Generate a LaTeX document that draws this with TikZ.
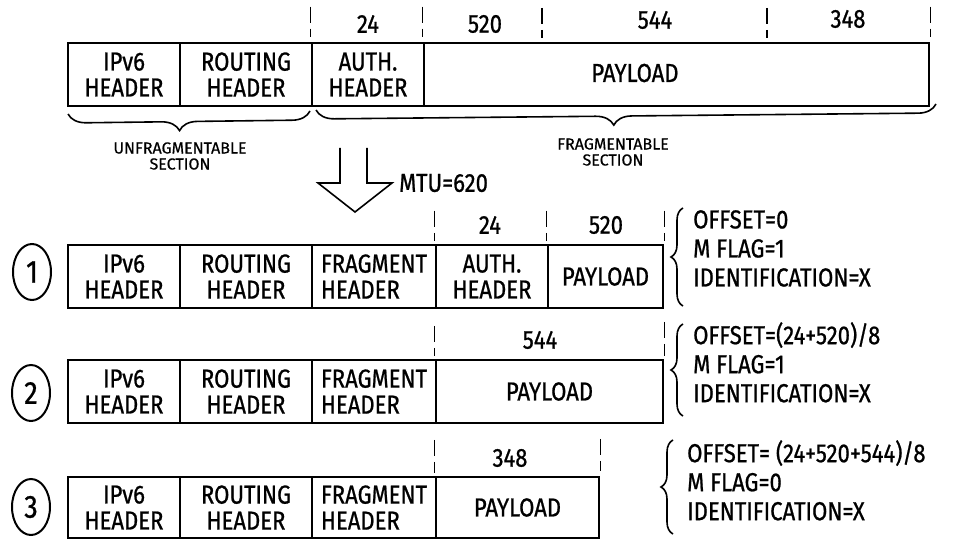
\documentclass[tikz,border=0pt]{standalone}
\usepackage{fontspec}
\setmainfont{Fira Sans}[FakeStretch=0.85, FakeBold=0.8]
\newfontfamily\smallfam{Fira Sans}[FakeBold=0.5]
\usetikzlibrary{decorations.pathreplacing,shapes.geometric}
\begin{document}
\begin{tikzpicture}[x=1pt,y=-1pt,
  cell/.style={draw, line width=2.5pt, minimum height=63pt, inner sep=0pt, align=center, font=\fontsize{26}{26}\selectfont},
  celltext/.style={inner sep=0pt, align=center, font=\fontsize{26}{26}\selectfont},
  sizelabel/.style={inner sep=0pt, font=\fontsize{26}{26}\selectfont},
  tickmark/.style={line width=1.4pt, dash pattern=on 16pt off 6pt},
  bracebelow/.style={line width=1.6pt, decorate, decoration={brace, amplitude=18pt}},
  braceside/.style={line width=1.6pt, decorate, decoration={brace, amplitude=12pt}},
  infotext/.style={inner sep=0pt, align=left, anchor=north west, font=\fontsize{26}{29}\selectfont},
  sectiontext/.style={inner sep=0pt, align=center, font=\smallfam\fontsize{16}{16}\selectfont},
  numcircle/.style={draw, ellipse, line width=2pt, minimum width=38pt, minimum height=56pt, inner sep=0pt, font=\fontsize{32}{32}\selectfont},
  bigarrow/.style={line width=1.6pt, line join=miter}
]
\useasboundingbox (0,0) rectangle (958,540);

% ---------- original packet ----------
\node[cell, minimum width=112pt] (t1) at (124,74.5) {IPv6\\HEADER};
\node[cell, minimum width=132pt] (t2) at (246,74.5) {ROUTING\\HEADER};
\node[cell, minimum width=112pt] (t3) at (368,74.5) {AUTH.\\HEADER};
\node[cell, minimum width=505pt] (t4) at (676.5,74.5) {};
\node[celltext] (t4text) at (635,73) {PAYLOAD};

\coordinate (tk1) at (542,8);
\coordinate (tk2) at (767,8);
\draw[tickmark] (t3.north west) ++(0,-35) -- ++(0,30);
\draw[tickmark] (t4.north west) ++(0,-35) -- ++(0,30);
\draw[tickmark] (tk1) -- ++(0,30);
\draw[tickmark] (tk2) -- ++(0,30);
\draw[tickmark] (t4.north east) ++(0,-35) -- ++(0,30);

\node[sizelabel] (s1) at (368,24) {24};
\node[sizelabel] (s2) at (485,24) {520};
\node[sizelabel] (s3) at (655,20) {544};
\node[sizelabel] (s4) at (848,19) {348};

\coordinate (ub1) at (310,111);
\coordinate (ub2) at (68,114);
\coordinate (fb1) at (936,104);
\coordinate (fb2) at (316,110);
\draw[bracebelow, decoration={aspect=0.54}] (ub1) -- (ub2);
\draw[bracebelow, decoration={aspect=0.52}] (fb1) -- (fb2);
\node[sectiontext] (us) at (180,156) {UNFRAGMENTABLE\\SECTION};
\node[sectiontext] (fs) at (613,152) {FRAGMENTABLE\\SECTION};

% ---------- big arrow ----------
\draw[bigarrow] (340,148) -- (340,183) -- (318,183) -- (355,212) -- (392,183) -- (367,183) -- (367,148);
\node[sizelabel, anchor=west] (mtu) at (399,183) {MTU=620};

% ---------- fragment 1 ----------
\node[numcircle] (c1) at (32,272) {1};
\node[cell, minimum width=112pt] (a1) at (124,276.5) {IPv6\\HEADER};
\node[cell, minimum width=132pt] (a2) at (246,276.5) {ROUTING\\HEADER};
\node[cell, minimum width=124pt, align=left] (a3) at (374,276.5) {FRAGMENT\\HEADER};
\node[cell, minimum width=112pt] (a4) at (492,276.5) {AUTH.\\HEADER};
\node[cell, minimum width=115pt] (a5) at (605.5,276.5) {PAYLOAD};
\draw[tickmark] (a4.north west) ++(0,-33) -- ++(0,30);
\draw[tickmark] (a5.north west) ++(0,-33) -- ++(0,30);
\draw[tickmark] (a5.north east) ++(0,-33) -- ++(0,30);
\node[sizelabel] (a4s) at (490,225) {24};
\node[sizelabel] (a5s) at (606,225) {520};
\coordinate (b1a) at (683,306);
\coordinate (b1b) at (683,208);
\draw[braceside] (b1a) -- (b1b);
\node[infotext] (i1) at (693,210) {OFFSET=0\\M FLAG=1\\IDENTIFICATION=X};

% ---------- fragment 2 ----------
\node[numcircle] (c2) at (31,393) {2};
\node[cell, minimum width=112pt] (b1) at (124,391.5) {IPv6\\HEADER};
\node[cell, minimum width=132pt] (b2) at (246,391.5) {ROUTING\\HEADER};
\node[cell, minimum width=124pt, align=left] (b3) at (374,391.5) {FRAGMENT\\HEADER};
\node[cell, minimum width=227pt] (b4) at (549.5,391.5) {PAYLOAD};
\draw[tickmark] (b4.north west) ++(0,-33) -- ++(0,30);
\draw[tickmark] (b4.north east) ++(0,-37) -- ++(0,34);
\node[sizelabel] (b4s) at (540,340) {544};
\coordinate (b2a) at (683,416);
\coordinate (b2b) at (683,324);
\draw[braceside] (b2a) -- (b2b);
\node[infotext] (i2) at (693,322) {OFFSET=(24+520)/8\\M FLAG=1\\IDENTIFICATION=X};

% ---------- fragment 3 ----------
\node[numcircle] (c3) at (31,507) {3};
\node[cell, minimum width=112pt, minimum height=61pt] (d1) at (124,507.5) {IPv6\\HEADER};
\node[cell, minimum width=132pt, minimum height=61pt] (d2) at (246,507.5) {ROUTING\\HEADER};
\node[cell, minimum width=124pt, minimum height=61pt, align=left] (d3) at (374,507.5) {FRAGMENT\\HEADER};
\node[cell, minimum width=163pt, minimum height=61pt] (d4) at (517.5,507.5) {PAYLOAD};
\draw[tickmark] (d4.north west) ++(0,-36) -- ++(0,33);
\draw[tickmark] (d4.north east) ++(0,-37) -- ++(0,32);
\node[sizelabel] (d4s) at (510,458) {348};
\coordinate (b3a) at (673,534);
\coordinate (b3b) at (673,440);
\draw[braceside] (b3a) -- (b3b);
\node[infotext] (i3) at (687,440) {OFFSET= (24+520+544)/8\\M FLAG=0\\IDENTIFICATION=X};
\end{tikzpicture}
\end{document}
